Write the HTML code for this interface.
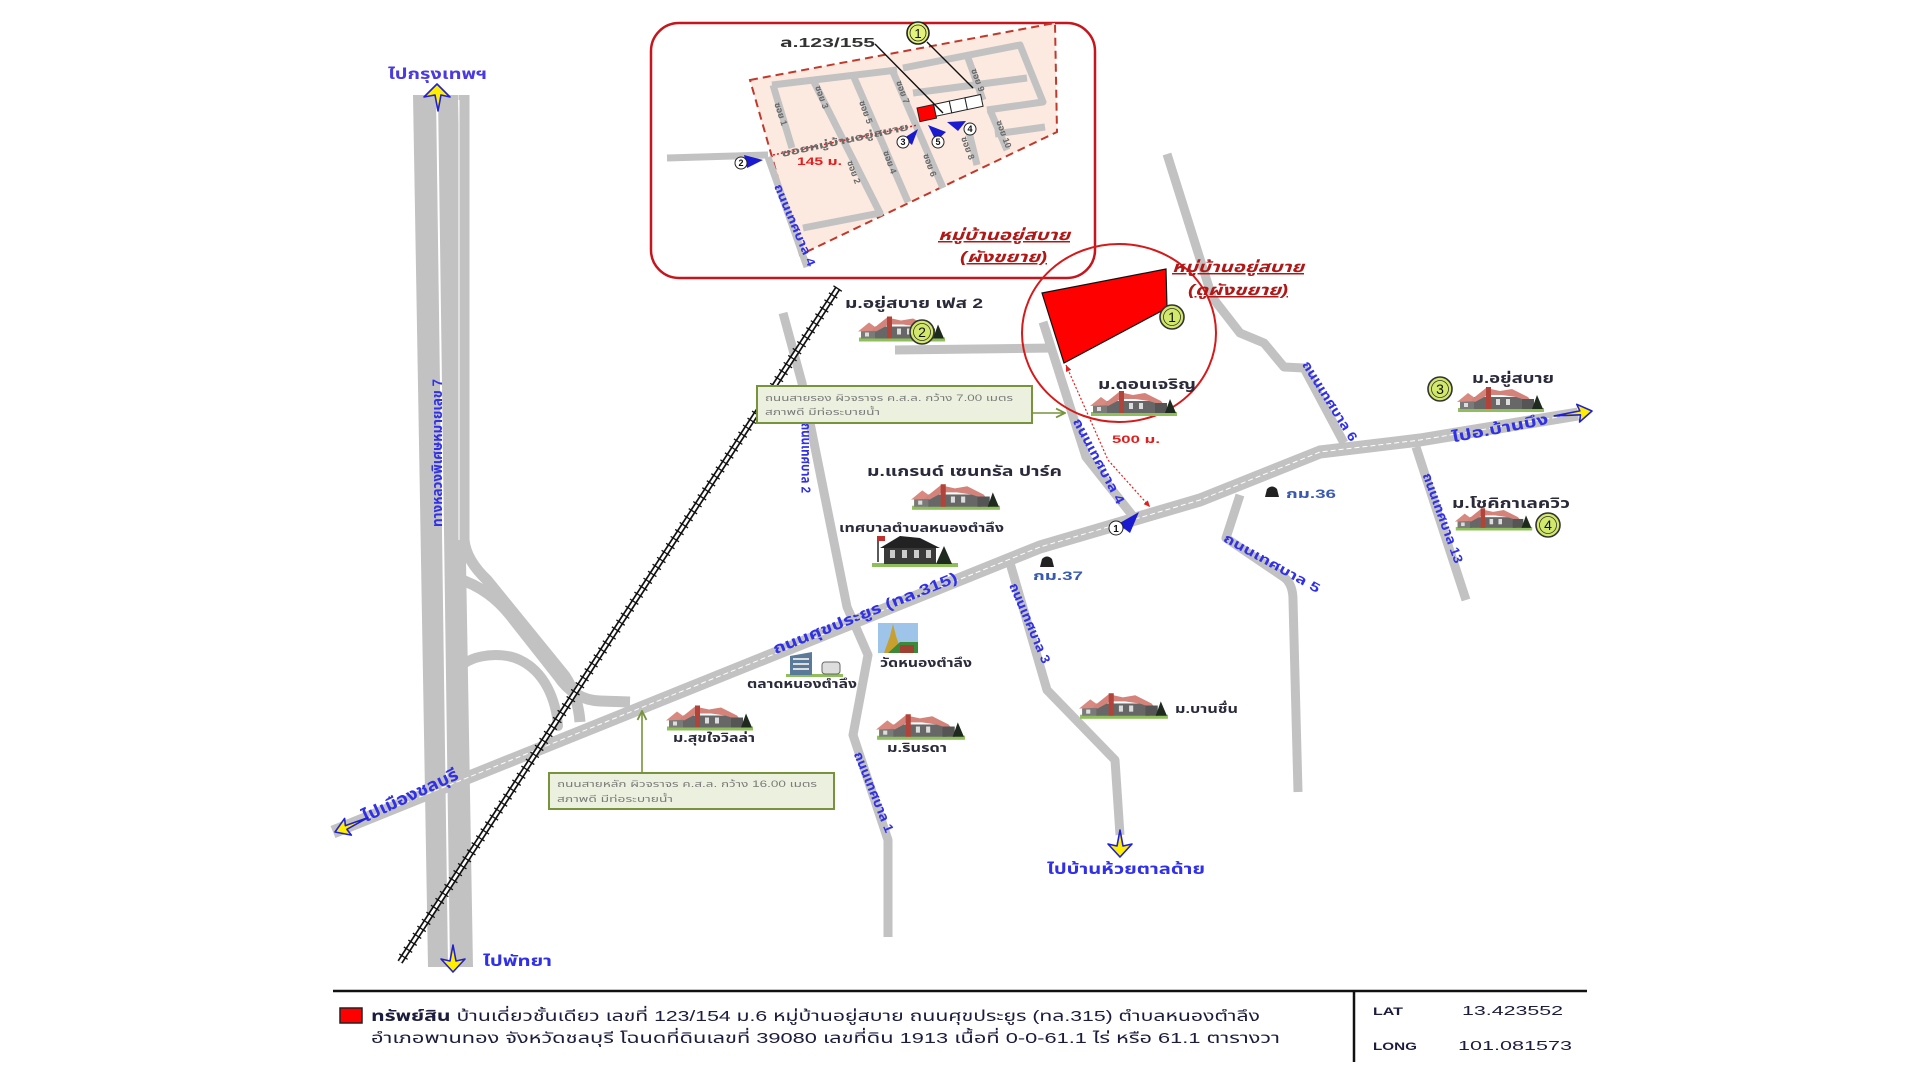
<!DOCTYPE html>
<html><head><meta charset="utf-8"><style>
html,body{margin:0;padding:0;background:#fff;}
svg{display:block;}
text{font-family:"Liberation Sans","Noto Sans Thai","Loma","Garuda","Norasi","DejaVu Sans",sans-serif;}
.bl{fill:#3030e8;font-weight:bold;}
.dk{fill:#2a2a3a;font-weight:bold;}
.rd{stroke:#c2c2c2;fill:none;stroke-linejoin:round;}
</style></head><body>
<svg width="1920" height="1080" viewBox="0 0 1920 1080" xmlns="http://www.w3.org/2000/svg">
<defs>
<symbol id="house" viewBox="0 0 90 27">
 <rect x="2" y="23" width="86" height="4" fill="#8fbf5a"/>
 <polygon points="4,24 4,16 12,11 20,16 20,24" fill="#7a7a7a"/>
 <polygon points="1,17 12,8 23,16" fill="#d98a80"/>
 <rect x="18" y="12" width="52" height="12" fill="#676767"/>
 <polygon points="15,15 30,3 44,6 56,4 72,12 76,17 60,12 46,10 32,10 19,17" fill="#d4837a"/>
 <rect x="30" y="2" width="5" height="22" fill="#b0443a"/>
 <rect x="40" y="14" width="4" height="6" fill="#ddd"/><rect x="50" y="14" width="4" height="6" fill="#ddd"/><rect x="8" y="18" width="4" height="4" fill="#ddd"/>
 <rect x="66" y="14" width="12" height="10" fill="#555"/>
 <polygon points="76,24 81,10 87,24" fill="#1f2a1f"/>
</symbol>
<marker id="ag" viewBox="0 0 10 10" refX="9" refY="5" markerWidth="7" markerHeight="7" orient="auto"><path d="M1,1 L9,5 L1,9" fill="none" stroke="#77933c" stroke-width="1.6"/></marker>
<marker id="ar" viewBox="0 0 10 10" refX="9" refY="5" markerWidth="6" markerHeight="6" orient="auto-start-reverse"><path d="M0,1 L9,5 L0,9 Z" fill="#e02020"/></marker>
</defs>

<!-- ===== INSET ===== -->
<rect x="651" y="23" width="444" height="255" rx="28" fill="#fff" stroke="#c4161c" stroke-width="2.5"/>
<polygon points="750,80 1055,23 1057,132 800,255" fill="#fce9e0" stroke="#c0392b" stroke-width="2" stroke-dasharray="8 5"/>
<g class="rd" stroke-width="7">
 <path d="M772,85 L897,70"/>
 <path d="M903,68 L1020,45 L1043,102 L987,110"/>
 <path d="M913,93 L1027,78"/>
 <path d="M967,55 L983,100"/>
 <path d="M995,134 L1045,127"/>
 <path d="M990,110 L1007,150"/>
 <path d="M968,128 L977,165"/>
 <path d="M893,72 L943,188"/>
 <path d="M853,75 L908,202"/>
 <path d="M813,80 L880,213 L803,228"/>
 <path d="M773,85 L792,148"/>
 <path d="M667,158 L768,155"/>
 <path d="M768,157 L807,267"/>
</g>
<path d="M773,155 L918,125" stroke="#e02020" stroke-width="1.5" stroke-dasharray="2 2" fill="none"/>
<text class="dk" transform="translate(845,140) rotate(-12)" text-anchor="middle" dy="0.35em" font-size="10" fill="#666" style="fill:#6a6a6a" textLength="130" lengthAdjust="spacingAndGlyphs">ซอยหมู่บ้านอยู่สบาย</text>
<text x="797" y="165" font-size="11" font-weight="bold" fill="#e02020" textLength="45" lengthAdjust="spacingAndGlyphs">145 ม.</text>
<g font-size="9" fill="#6a6a6a" font-weight="bold">
 <text transform="translate(781,114) rotate(72)" text-anchor="middle" dy="0.35em">ซอย 1</text>
 <text transform="translate(822,97) rotate(70)" text-anchor="middle" dy="0.35em">ซอย 3</text>
 <text transform="translate(854,172) rotate(70)" text-anchor="middle" dy="0.35em">ซอย 2</text>
 <text transform="translate(866,112) rotate(70)" text-anchor="middle" dy="0.35em">ซอย 5</text>
 <text transform="translate(890,162) rotate(70)" text-anchor="middle" dy="0.35em">ซอย 4</text>
 <text transform="translate(903,92) rotate(70)" text-anchor="middle" dy="0.35em">ซอย 7</text>
 <text transform="translate(930,165) rotate(70)" text-anchor="middle" dy="0.35em">ซอย 6</text>
 <text transform="translate(968,148) rotate(70)" text-anchor="middle" dy="0.35em">ซอย 8</text>
 <text transform="translate(978,80) rotate(70)" text-anchor="middle" dy="0.35em">ซอย 9</text>
 <text transform="translate(1004,134) rotate(70)" text-anchor="middle" dy="0.35em">ซอย 10</text>
</g>
<text class="bl" transform="translate(795,225) rotate(67)" text-anchor="middle" dy="0.35em" font-size="12" textLength="88" lengthAdjust="spacingAndGlyphs">ถนนเทศบาล 4</text>
<!-- house row -->
<g transform="translate(917,108) rotate(-12)">
 <rect x="0" y="0" width="17" height="14" fill="#ff0000" stroke="#222" stroke-width="1"/>
 <rect x="17" y="0" width="16" height="12" fill="#fff" stroke="#222" stroke-width="1"/>
 <rect x="33" y="0" width="16" height="12" fill="#fff" stroke="#222" stroke-width="1"/>
 <rect x="49" y="0" width="16" height="12" fill="#fff" stroke="#222" stroke-width="1"/>
</g>
<text x="780" y="47" font-size="13" font-weight="bold" fill="#333" textLength="95" lengthAdjust="spacingAndGlyphs">ล.123/155</text>
<path d="M875,44 L943,113 M927,42 L973,88" stroke="#111" stroke-width="1.4" fill="none"/>
<g><circle cx="918" cy="33" r="11" fill="#e3f27a" stroke="#222" stroke-width="1.6"/><circle cx="918" cy="33" r="8" fill="none" stroke="#222" stroke-width="0.8"/><text x="918" y="38" text-anchor="middle" font-size="13" fill="#111">1</text></g>
<!-- inset blue arrows -->
<g fill="#1a1ad0">
 <polygon points="744,155 763,160 747,168"/>
 <polygon points="904,138 918,129 912,145"/>
 <polygon points="928,125 946,132 936,141"/>
 <polygon points="947,122 966,121 958,131"/>
</g>
<g fill="#fff" stroke="#222" stroke-width="1" font-size="9" text-anchor="middle">
 <circle cx="741" cy="163" r="6"/><circle cx="903" cy="142" r="6"/><circle cx="938" cy="142" r="6"/><circle cx="970" cy="129" r="6"/>
</g>
<g font-size="9" text-anchor="middle" fill="#111" font-weight="bold">
 <text x="741" y="166">2</text><text x="903" y="145">3</text><text x="938" y="145">5</text><text x="970" y="132">4</text>
</g>
<text x="938" y="240" font-size="15" font-weight="bold" font-style="italic" fill="#b01818" text-decoration="underline" textLength="132" lengthAdjust="spacingAndGlyphs">หมู่บ้านอยู่สบาย</text>
<text x="960" y="262" font-size="15" font-weight="bold" font-style="italic" fill="#b01818" text-decoration="underline" textLength="87" lengthAdjust="spacingAndGlyphs">(ผังขยาย)</text>

<!-- ===== HIGHWAY ===== -->
<polygon points="413,95 436,95 448,967 428,967" fill="#c2c2c2"/>
<polygon points="438,95 458,95 473,967 450,967" fill="#c2c2c2"/>
<g class="rd">
 <path d="M464,95 L464,540 Q466,560 487,580 L565,676 Q578,696 580,722" stroke-width="11"/>
 <path d="M456,578 C482,586 498,600 510,615 L558,676 Q574,700 600,701 L630,702" stroke-width="11"/>
 <path d="M455,692 L455,676 C460,655 500,650 520,660 C545,672 556,700 558,726" stroke-width="10" stroke-linecap="round"/>
</g>
<path d="M437,100 L449,965" stroke="#fff" stroke-width="1.2"/>
<path d="M459,100 L459,540" stroke="#fff" stroke-width="1"/>
<text class="bl" transform="translate(437,453) rotate(-90)" text-anchor="middle" dy="0.35em" font-size="14" textLength="148" lengthAdjust="spacingAndGlyphs">ทางหลวงพิเศษหมายเลข 7</text>

<!-- ===== OTHER ROADS ===== -->
<g class="rd" stroke-width="9">
 <path d="M783,313 L802,383 L847,607 L868,655 L853,735 L888,840 L888,937"/>
 <path d="M895,350 L1053,348"/>
 <path d="M1043,322 L1086,457 L1136,520"/>
 <path d="M1167,154 L1212,297 L1240,333 L1264,343 L1284,367 L1304,368 L1344,443"/>
 <path d="M1240,495 L1226,538 L1285,578 Q1293,585 1293,600 L1298,792"/>
 <path d="M1416,447 L1466,600"/>
 <path d="M1010,563 L1047,690 L1115,760 L1120,835"/>
</g>
<!-- main road -->
<path class="rd" d="M333,832 L1040,547 L1200,500 L1320,452 L1420,440 L1578,414" stroke-width="13"/>
<path d="M345,827 L1040,547 L1200,500 L1320,452 L1420,440 L1570,415" stroke="#fff" stroke-width="1" stroke-dasharray="5 3" fill="none"/>

<!-- railway -->
<path d="M838,288 L400,962" stroke="#111" stroke-width="6"/>
<path d="M838,288 L400,962" stroke="#fff" stroke-width="2.6"/>
<path d="M838,288 L400,962" stroke="#111" stroke-width="10" stroke-dasharray="1.3 7"/>

<!-- road labels -->
<g font-size="13">
 <text class="bl" transform="translate(806,458) rotate(90)" text-anchor="middle" dy="0.35em" textLength="70" lengthAdjust="spacingAndGlyphs">ถนนเทศบาล 2</text>
 <text class="bl" transform="translate(1099,461) rotate(62)" text-anchor="middle" dy="0.35em" textLength="95" lengthAdjust="spacingAndGlyphs">ถนนเทศบาล 4</text>
 <text class="bl" transform="translate(1330,401) rotate(58)" text-anchor="middle" dy="0.35em" textLength="92" lengthAdjust="spacingAndGlyphs">ถนนเทศบาล 6</text>
 <text class="bl" transform="translate(1272,563) rotate(29)" text-anchor="middle" dy="0.35em" textLength="108" lengthAdjust="spacingAndGlyphs">ถนนเทศบาล 5</text>
 <text class="bl" transform="translate(1443,518) rotate(70)" text-anchor="middle" dy="0.35em" textLength="95" lengthAdjust="spacingAndGlyphs">ถนนเทศบาล 13</text>
 <text class="bl" transform="translate(1030,623) rotate(67)" text-anchor="middle" dy="0.35em" textLength="86" lengthAdjust="spacingAndGlyphs">ถนนเทศบาล 3</text>
 <text class="bl" transform="translate(874,792) rotate(68)" text-anchor="middle" dy="0.35em" textLength="86" lengthAdjust="spacingAndGlyphs">ถนนเทศบาล 1</text>
</g>
<text class="bl" transform="translate(865,613) rotate(-21.7)" text-anchor="middle" dy="0.35em" font-size="15" textLength="197" lengthAdjust="spacingAndGlyphs">ถนนศุขประยูร (ทล.315)</text>
<text class="bl" transform="translate(410,795) rotate(-25)" text-anchor="middle" dy="0.35em" font-size="17" textLength="104" lengthAdjust="spacingAndGlyphs">ไปเมืองชลบุรี</text>
<text class="bl" transform="translate(1500,428) rotate(-11)" text-anchor="middle" dy="0.35em" font-size="15" textLength="98" lengthAdjust="spacingAndGlyphs">ไปอ.บ้านบึง</text>

<!-- direction arrows (yellow, blue outline) -->
<g fill="#ffee00" stroke="#2020d0" stroke-width="1.6" stroke-linejoin="round">
 <polygon points="437,84 450,97 441,95 438,111 435,95 424,97"/>
 <polygon points="453,972 441,959 450,961 453,945 456,961 465,959"/>
 <polygon points="1120,857 1108,844 1117,846 1120,830 1123,846 1132,844"/>
 <g transform="translate(335,832) rotate(-22)"><polygon points="0,0 14,-9 12,-2 36,-1 12,2 14,9"/></g>
 <g transform="translate(1592,411) rotate(-9)"><polygon points="0,0 -14,-9 -12,-2 -38,-1 -12,2 -14,9"/></g>
</g>

<!-- site -->
<polygon points="1042,293 1166,269 1167,308 1064,363" fill="#ff0000" stroke="#111" stroke-width="1.2"/>
<ellipse cx="1119" cy="333" rx="97" ry="89" fill="none" stroke="#d41a1a" stroke-width="2"/>
<path d="M1066,365 L1108,460 L1150,507" stroke="#e02020" stroke-width="1.2" stroke-dasharray="2 2" fill="none" marker-start="url(#ar)" marker-end="url(#ar)"/>
<text x="1112" y="443" font-size="11" font-weight="bold" fill="#e02020" textLength="48" lengthAdjust="spacingAndGlyphs">500 ม.</text>
<text x="1172" y="272" font-size="15" font-weight="bold" font-style="italic" fill="#b01818" text-decoration="underline" textLength="132" lengthAdjust="spacingAndGlyphs">หมู่บ้านอยู่สบาย</text>
<text x="1188" y="295" font-size="15" font-weight="bold" font-style="italic" fill="#b01818" text-decoration="underline" textLength="100" lengthAdjust="spacingAndGlyphs">(ดูผังขยาย)</text>

<!-- icons -->
<use href="#house" x="857" y="314" width="90" height="28"/>
<use href="#house" x="1088" y="389" width="92" height="27"/>
<use href="#house" x="1456" y="385" width="90" height="27"/>
<use href="#house" x="1454" y="506" width="80" height="25"/>
<use href="#house" x="910" y="482" width="92" height="28"/>
<use href="#house" x="665" y="703" width="90" height="28"/>
<use href="#house" x="875" y="712" width="92" height="28"/>
<use href="#house" x="1078" y="691" width="92" height="28"/>
<!-- municipality building -->
<g>
 <rect x="872" y="563" width="86" height="4" fill="#8fbf5a"/>
 <rect x="884" y="546" width="52" height="18" fill="#3a3a3a"/>
 <polygon points="880,548 900,536 920,538 940,548" fill="#222"/>
 <rect x="890" y="550" width="5" height="8" fill="#ccc"/><rect x="902" y="550" width="5" height="8" fill="#ccc"/><rect x="914" y="550" width="5" height="8" fill="#ccc"/><rect x="926" y="550" width="5" height="8" fill="#ccc"/>
 <line x1="878" y1="536" x2="878" y2="562" stroke="#222" stroke-width="1.5"/><rect x="878" y="536" width="7" height="5" fill="#c03030"/>
 <polygon points="936,564 944,546 952,564" fill="#1f2a1f"/>
</g>
<!-- temple -->
<g>
 <rect x="878" y="623" width="40" height="30" fill="#9fc4ea"/>
 <polygon points="884,653 890,636 893,624 896,636 902,653" fill="#c8a030"/>
 <polygon points="888,653 900,642 918,642 918,653" fill="#3a8a3a"/>
 <rect x="900" y="645" width="14" height="8" fill="#a04030"/>
</g>
<!-- market -->
<g>
 <rect x="786" y="674" width="57" height="3" fill="#8fbf5a"/>
 <polygon points="790,675 790,656 812,652 812,675" fill="#5a7a9a"/>
 <rect x="793" y="658" width="16" height="2" fill="#ddd"/><rect x="793" y="663" width="16" height="2" fill="#ddd"/><rect x="793" y="668" width="16" height="2" fill="#ddd"/>
 <rect x="822" y="662" width="18" height="12" rx="3" fill="#ddd" stroke="#666"/>
</g>
<!-- km markers -->
<path d="M1040,567 L1042,559 Q1047,554 1052,559 L1054,567 Z" fill="#222"/>
<path d="M1265,497 L1267,489 Q1272,484 1277,489 L1279,497 Z" fill="#222"/>
<text x="1033" y="580" font-size="12" font-weight="bold" fill="#3a5ab0" textLength="50" lengthAdjust="spacingAndGlyphs">กม.37</text>
<text x="1286" y="498" font-size="12" font-weight="bold" fill="#3a5ab0" textLength="50" lengthAdjust="spacingAndGlyphs">กม.36</text>

<!-- numbered circles -->
<g>
 <circle cx="922" cy="332" r="12" fill="#d2e86a" stroke="#333" stroke-width="1.6"/><circle cx="922" cy="332" r="8.5" fill="none" stroke="#333" stroke-width="0.8"/><text x="922" y="337" text-anchor="middle" font-size="14" fill="#111">2</text>
 <circle cx="1172" cy="317" r="12" fill="#d2e86a" stroke="#333" stroke-width="1.6"/><circle cx="1172" cy="317" r="8.5" fill="none" stroke="#333" stroke-width="0.8"/><text x="1172" y="322" text-anchor="middle" font-size="14" fill="#111">1</text>
 <circle cx="1440" cy="389" r="12" fill="#d2e86a" stroke="#333" stroke-width="1.6"/><circle cx="1440" cy="389" r="8.5" fill="none" stroke="#333" stroke-width="0.8"/><text x="1440" y="394" text-anchor="middle" font-size="14" fill="#111">3</text>
 <circle cx="1548" cy="525" r="12" fill="#d2e86a" stroke="#333" stroke-width="1.6"/><circle cx="1548" cy="525" r="8.5" fill="none" stroke="#333" stroke-width="0.8"/><text x="1548" y="530" text-anchor="middle" font-size="14" fill="#111">4</text>
</g>
<!-- arrow 1 on main road -->
<polygon points="1118,524 1139,512 1130,533" fill="#1a1ad0"/>
<circle cx="1116" cy="528" r="7" fill="#fff" stroke="#222" stroke-width="1"/>
<text x="1116" y="532" text-anchor="middle" font-size="10" font-weight="bold" fill="#111">1</text>

<!-- place labels -->
<g class="dk" font-size="14">
 <text x="845" y="308" textLength="138" lengthAdjust="spacingAndGlyphs">ม.อยู่สบาย เฟส 2</text>
 <text x="1098" y="389" textLength="98" lengthAdjust="spacingAndGlyphs">ม.ดอนเจริญ</text>
 <text x="1472" y="383" textLength="82" lengthAdjust="spacingAndGlyphs">ม.อยู่สบาย</text>
 <text x="1452" y="508" textLength="118" lengthAdjust="spacingAndGlyphs">ม.โชคิกาเลควิว</text>
 <text x="867" y="476" textLength="195" lengthAdjust="spacingAndGlyphs">ม.แกรนด์ เซนทรัล ปาร์ค</text>
</g>
<g class="dk" font-size="12">
 <text x="839" y="532" textLength="165" lengthAdjust="spacingAndGlyphs">เทศบาลตำบลหนองตำลึง</text>
 <text x="880" y="667" textLength="92" lengthAdjust="spacingAndGlyphs">วัดหนองตำลึง</text>
 <text x="747" y="688" textLength="110" lengthAdjust="spacingAndGlyphs">ตลาดหนองตำลึง</text>
 <text x="673" y="742" textLength="82" lengthAdjust="spacingAndGlyphs">ม.สุขใจวิลล่า</text>
 <text x="887" y="752" textLength="60" lengthAdjust="spacingAndGlyphs">ม.รินรดา</text>
 <text x="1175" y="713" textLength="63" lengthAdjust="spacingAndGlyphs">ม.บานชื่น</text>
</g>
<g class="bl" font-size="15">
 <text x="388" y="79" textLength="99" lengthAdjust="spacingAndGlyphs" style="fill:#4a3ae0">ไปกรุงเทพฯ</text>
 <text x="483" y="966" textLength="69" lengthAdjust="spacingAndGlyphs">ไปพัทยา</text>
 <text x="1047" y="874" textLength="158" lengthAdjust="spacingAndGlyphs">ไปบ้านห้วยตาลด้าย</text>
</g>

<!-- green info boxes -->
<rect x="757" y="386" width="275" height="37" fill="#ebf1de" stroke="#77933c" stroke-width="2"/>
<text x="765" y="401" font-size="9" fill="#7a7a7a" textLength="248" lengthAdjust="spacingAndGlyphs">ถนนสายรอง ผิวจราจร ค.ส.ล. กว้าง 7.00 เมตร</text>
<text x="765" y="415" font-size="9" fill="#7a7a7a" textLength="115" lengthAdjust="spacingAndGlyphs">สภาพดี มีท่อระบายน้ำ</text>
<path d="M1032,413 L1065,413" stroke="#77933c" stroke-width="1.6" marker-end="url(#ag)"/>
<rect x="549" y="773" width="285" height="36" fill="#ebf1de" stroke="#77933c" stroke-width="2"/>
<text x="557" y="787" font-size="9" fill="#7a7a7a" textLength="260" lengthAdjust="spacingAndGlyphs">ถนนสายหลัก ผิวจราจร ค.ส.ล. กว้าง 16.00 เมตร</text>
<text x="557" y="802" font-size="9" fill="#7a7a7a" textLength="116" lengthAdjust="spacingAndGlyphs">สภาพดี มีท่อระบายน้ำ</text>
<path d="M642,773 L642,711" stroke="#77933c" stroke-width="1.6" marker-end="url(#ag)"/>

<!-- ===== FOOTER ===== -->
<path d="M333,991 L1587,991" stroke="#111" stroke-width="2.5"/>
<path d="M1354,992 L1354,1062" stroke="#111" stroke-width="2.5"/>
<rect x="340" y="1008" width="22" height="15" fill="#ff0000" stroke="#222" stroke-width="1.5"/>
<text x="371" y="1021" font-size="15" fill="#1c1c3c" textLength="889" lengthAdjust="spacingAndGlyphs"><tspan font-weight="bold">ทรัพย์สิน</tspan> บ้านเดี่ยวชั้นเดียว เลขที่ 123/154 ม.6 หมู่บ้านอยู่สบาย ถนนศุขประยูร (ทล.315) ตำบลหนองตำลึง</text>
<text x="371" y="1043" font-size="15" fill="#1c1c3c" textLength="909" lengthAdjust="spacingAndGlyphs">อำเภอพานทอง  จังหวัดชลบุรี  โฉนดที่ดินเลขที่ 39080 เลขที่ดิน 1913 เนื้อที่ 0-0-61.1 ไร่  หรือ 61.1 ตารางวา</text>
<text x="1373" y="1015" font-size="11" font-weight="bold" fill="#1c1c3c" textLength="30" lengthAdjust="spacingAndGlyphs">LAT</text>
<text x="1462" y="1015" font-size="13" fill="#1c1c3c" textLength="101" lengthAdjust="spacingAndGlyphs">13.423552</text>
<text x="1373" y="1050" font-size="11" font-weight="bold" fill="#1c1c3c" textLength="44" lengthAdjust="spacingAndGlyphs">LONG</text>
<text x="1458" y="1050" font-size="13" fill="#1c1c3c" textLength="114" lengthAdjust="spacingAndGlyphs">101.081573</text>
</svg>
</body></html>
